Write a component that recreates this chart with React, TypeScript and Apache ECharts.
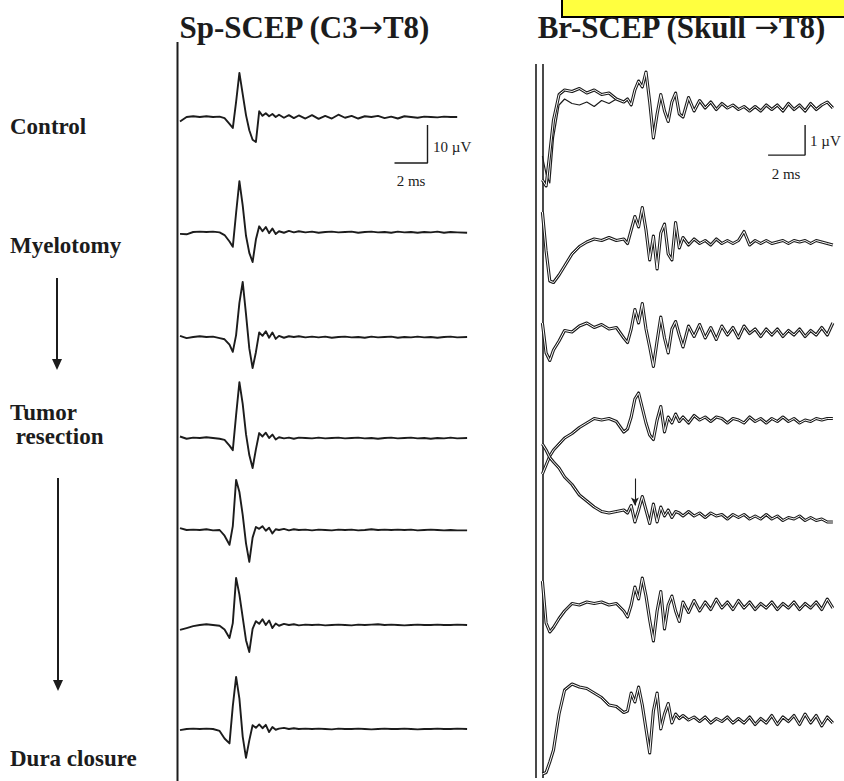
import React, { useEffect, useRef } from "react";
import * as echarts from "echarts";

// ---------- Left panel: Sp-SCEP (C3->T8), time in ms, amplitude in µV ----------
const leftTime = [0, 0.4, 0.8, 1.2, 1.6, 2.0, 2.4, 2.7,
  3.0, 3.2, 3.4, 3.6, 3.8, 4.0, 4.2, 4.4, 4.6, 4.8, 5.0, 5.2, 5.4, 5.6, 5.8, 6.0,
  6.3, 6.6, 6.9, 7.2,
  7.6, 8.0, 8.4, 8.8, 9.2, 9.6, 10.0, 10.4, 10.8, 11.2, 11.6, 12.0, 12.4, 12.8, 13.2, 13.6, 14.0, 14.4, 14.8, 15.2, 15.6, 16.0, 16.4, 16.8,
  17.4];

const spControl = [-1.2, 0.0, 0.2, 0.0, 0.2, 0.0, 0.1, -0.3,
  -1.8, -2.9, 4.0, 11.6, 6.0, 0.5, -3.5, -6.0, -6.6, 1.5, 0.3, 1.0, 0.2, 0.8, 0.0, 0.6,
  -0.2, 0.5, -0.3, 0.4,
  -0.4, 0.5, -0.5, 0.3, -0.4, 0.6, -0.2, 0.3, -0.4, 0.2, 0.0, 0.3, -0.3, 0.1, -0.4, 0.2, 0.0, -0.2, 0.1, 0.0, -0.1, 0.1, 0.0, 0.0,
  null];
const spMyelotomy = [-0.5, -0.6, 0.0, 0.1, 0.0, 0.1, -0.1, -0.8,
  -2.5, -3.9, 5.0, 13.4, 7.0, -1.0, -5.5, -7.9, -2.0, 1.5, 0.2, 1.3, -0.3, 0.9, -0.5, 0.2,
  -0.2, 0.3, -0.1, 0.2,
  -0.1, 0.1, -0.2, 0.0, 0.1, -0.1, 0.0, 0.1, -0.2, 0.0, 0.1, -0.1, 0.0, -0.2, 0.1, -0.1, 0.0, -0.2, 0.0, -0.1, 0.1, -0.2, 0.0, -0.1,
  -0.2];
const spStep3 = [0.3, -0.3, 0.0, 0.2, 0.0, 0.1, -0.3, -0.6,
  -2.0, -3.9, 0.5, 9.0, 14.5, 6.0, -3.0, -8.2, -4.0, 1.2, 0.3, 1.5, -0.2, 1.2, -0.5, 0.3,
  -0.2, 0.2, 0.0, 0.2,
  -0.1, 0.1, -0.1, 0.1, -0.2, 0.0, 0.1, -0.1, 0.0, -0.2, 0.1, -0.1, 0.0, 0.1, -0.2, 0.0, -0.1, 0.1, -0.1, 0.0, -0.2, 0.0, 0.1, -0.1,
  0.0];
const spTumor = [0.4, -0.2, 0.1, 0.0, 0.2, 0.0, -0.2, -0.5,
  -2.0, -3.2, 6.0, 14.7, 9.0, 1.0, -4.5, -7.9, -3.0, 1.3, 0.4, 1.4, 0.0, 0.9, -0.4, 0.2,
  -0.1, 0.1, -0.2, 0.1,
  0.0, -0.1, 0.1, -0.1, 0.0, 0.1, -0.1, 0.0, 0.1, -0.1, 0.0, -0.2, 0.0, 0.1, -0.1, 0.0, 0.1, -0.1, 0.0, -0.2, 0.0, -0.1, 0.1, -0.1,
  0.0];
const spStep5 = [0.5, 0.0, 0.1, 0.0, 0.2, -0.1, 0.0, -1.5,
  -3.9, 1.0, 13.2, 10.0, 4.0, -3.5, -8.4, -2.0, 0.8, 0.3, 1.0, -0.2, 0.6, -0.9, 0.2, 0.0,
  0.3, -0.1, 0.2, 0.0,
  0.1, -0.1, 0.1, 0.0, -0.1, 0.1, 0.0, 0.1, -0.1, 0.0, 0.2, 0.0, 0.1, 0.0, 0.1, 0.0, 0.1, -0.1, 0.0, 0.1, 0.0, -0.1, 0.0, -0.1,
  -0.1];
const spStep6 = [-1.3, -0.8, -0.3, 0.0, 0.2, 0.0, -0.2, -1.2,
  -3.4, 0.5, 12.4, 8.0, 2.0, -4.0, -7.1, -1.0, 1.0, 0.3, 1.5, 0.0, 1.2, -0.8, 0.4, -0.2,
  0.3, 0.0, 0.2, -0.1,
  0.1, 0.0, 0.1, -0.1, 0.0, 0.1, 0.0, -0.1, 0.1, 0.0, 0.1, 0.2, 0.0, 0.1, 0.0, -0.1, 0.0, 0.1, 0.0, 0.0, 0.1, 0.0, 0.0, 0.1,
  0.0];
const spDura = [-0.3, 0.0, 0.1, 0.0, 0.1, 0.0, -0.5, -2.5,
  -3.8, 6.0, 13.7, 8.0, -2.0, -7.6, -3.0, 1.0, 0.3, 1.2, 0.2, 1.1, -0.8, 0.5, -0.2, 0.1,
  0.3, 0.0, 0.2, 0.0,
  0.1, 0.0, 0.1, 0.0, -0.1, 0.1, 0.0, 0.0, 0.1, 0.0, -0.1, 0.0, 0.1, 0.0, 0.0, 0.1, 0.0, -0.1, 0.0, 0.0, 0.1, 0.0, 0.0, 0.1,
  0.0];

// ---------- Right panel: Br-SCEP (Skull->T8) ----------
const rightTime = [0.4, 0.6, 0.8, 1.0, 1.3, 1.6, 2.0, 2.4, 2.8, 3.2, 3.6, 4.0, 4.4, 4.8,
  5.0, 5.2, 5.4, 5.6, 5.8, 6.0, 6.2, 6.4, 6.6, 6.8, 7.0, 7.2, 7.4, 7.6, 7.8, 8.0,
  8.3, 8.6, 8.9, 9.2, 9.5, 9.8, 10.1, 10.4, 10.7, 11.0, 11.3, 11.6, 11.9, 12.2, 12.5, 12.8, 13.1, 13.4, 13.7, 14.0, 14.3, 14.6, 14.9, 15.2, 15.5, 15.8, 16.1];

const brControl = [-2.4, -2.6, -1.5, -0.4, 0.45, 0.6, 0.55, 0.65, 0.5, 0.6, 0.45, 0.5, 0.3, 0.2,
  0.3, 0.1, 0.6, 0.9, 0.7, 1.2, 0.2, -1.0, -0.2, 0.45, -0.1, -0.45, 0.2, 0.5, -0.2, -0.3,
  0.35, -0.1, 0.25, 0.0, 0.2, -0.05, 0.15, 0.0, 0.1, -0.05, 0.05, -0.1, 0.05, -0.1, 0.1, -0.05, 0.1, -0.1, 0.15, -0.05, 0.1, -0.1, 0.15, -0.05, 0.1, 0.2, 0.0];
const brControlRun2 = [-1.6, -2.2, -2.5, -1.0, 0.1, 0.3, 0.15, 0.1, 0.2, 0.05, 0.25, 0.15, 0.3, 0.2, 0.3];
const brMyelotomy = [1.0, -0.3, -1.3, -1.35, -1.1, -0.8, -0.4, -0.15, 0.0, 0.1, 0.05, 0.15, 0.05, 0.1,
  -0.05, 0.4, 0.85, 0.5, 1.15, 0.4, -0.6, 0.2, -0.9, 0.3, 0.6, -0.4, -0.6, 0.65, -0.2, 0.15,
  -0.1, 0.1, -0.05, 0.05, -0.1, 0.1, -0.05, 0.05, -0.05, 0.05, 0.35, -0.1, 0.05, -0.05, 0.05, -0.05, 0.0, 0.05, -0.05, 0.05, 0.0, 0.05, -0.05, 0.05, 0.0, -0.05, -0.1];
const brStep3 = [0.3, -0.7, -0.95, -0.6, -0.3, 0.05, 0.0, 0.2, 0.3, 0.15, 0.25, 0.1, 0.15, -0.2,
  -0.35, 0.1, 0.75, 0.3, 0.95, 0.1, -0.5, -1.15, -0.3, 0.5, -0.2, -0.7, 0.1, 0.35, -0.1, -0.5,
  0.2, -0.15, 0.25, -0.2, 0.15, -0.25, 0.2, -0.1, 0.15, -0.2, 0.2, -0.05, 0.1, -0.15, 0.1, -0.1, 0.1, -0.15, 0.05, -0.1, 0.1, -0.15, 0.05, -0.1, 0.15, -0.1, 0.3];
const brTumor = [-1.8, -1.5, -1.2, -1.0, -0.8, -0.6, -0.45, -0.25, -0.1, 0.05, 0.0, 0.05, -0.05, -0.4,
  -0.3, 0.1, 0.7, 0.9, 0.4, -0.1, -0.5, -0.65, 0.0, 0.45, -0.4, 0.1, -0.1, 0.2, -0.05, 0.1,
  -0.1, 0.15, 0.0, 0.1, -0.05, 0.1, 0.05, -0.1, 0.05, 0.0, -0.1, 0.1, -0.05, 0.05, -0.1, 0.05, -0.05, 0.1, -0.05, 0.05, -0.1, 0.0, -0.05, 0.05, 0.0, 0.05, 0.05];
const brStep5 = [2.3, 2.1, 1.85, 1.7, 1.5, 1.2, 0.95, 0.6, 0.4, 0.2, 0.05, 0.0, 0.05, 0.1,
  0.0, 0.25, -0.3, 0.1, 0.55, 0.1, -0.35, 0.3, -0.3, 0.2, -0.1, 0.1, -0.15, 0.05, 0.0, -0.1,
  0.05, -0.1, 0.0, -0.15, 0.0, -0.1, -0.05, -0.2, -0.05, -0.15, -0.05, -0.2, -0.1, -0.2, -0.05, -0.2, -0.1, -0.25, -0.15, -0.2, -0.1, -0.25, -0.15, -0.25, -0.2, -0.3, -0.3];
const brStep6 = [0.8, -0.6, -0.9, -0.75, -0.45, -0.2, 0.05, 0.0, 0.1, 0.05, 0.1, 0.0, 0.05, -0.2,
  -0.4, 0.0, 0.6, 0.2, 0.9, 0.3, -0.5, -1.2, -0.2, 0.45, -0.8, 0.0, 0.3, -0.2, -0.55, 0.1,
  -0.25, 0.15, -0.2, 0.1, -0.15, 0.2, -0.1, 0.1, -0.15, 0.15, -0.1, 0.1, -0.15, 0.05, -0.1, 0.1, -0.15, 0.05, -0.1, 0.1, -0.15, 0.05, -0.1, 0.1, -0.15, 0.2, -0.1];
const brDura = [-1.8, -1.75, -1.4, -1.0, 0.2, 1.0, 1.2, 1.1, 1.05, 0.9, 0.75, 0.5, 0.45, 0.25,
  0.3, 0.9, 0.6, 1.1, 0.5, -0.3, -1.1, 0.3, 0.9, -0.3, 0.2, 0.55, -0.1, 0.2, 0.05, 0.15,
  0.0, 0.1, -0.05, 0.1, -0.1, 0.05, -0.05, 0.1, -0.1, 0.05, -0.1, 0.1, -0.15, 0.05, -0.1, 0.15, -0.15, 0.1, -0.05, 0.15, -0.15, 0.2, -0.1, 0.15, -0.2, 0.1, -0.1];

// scale bars (ms, µV) and the marked arrow (ms, µV)
const leftScaleBar = [[13, -12.1], [15, -12.1], [15, -2.1]];
const rightScaleBar = [[12.6, -1.57], [14.6, -1.57], [14.6, -0.57]];
const arrowMark = [[5.4, 1.15], [5.4, 0.25]];

const titleParts = [["Sp-SCEP (C3", "T8)"], ["Br-SCEP (Skull ", "T8)"]];
const stageLabels = ["Control", "Myelotomy", "Tumor", " resection", "Dura closure"];

// layout (pixels)
const LEFT_BASE = [117, 232, 337, 438, 530, 625, 729];
const RIGHT_BASE = [108, 242, 332, 420, 513, 605, 720];
const INK = "#1c1c1c";
const SERIF = '"Liberation Serif", "Times New Roman", serif';

export default function App() {
  const ref = useRef<HTMLDivElement>(null);

  useEffect(() => {
    if (!ref.current) return;
    const chart = echarts.init(ref.current, null, { renderer: "svg" });
    const grid: any[] = [];
    const xAxis: any[] = [];
    const yAxis: any[] = [];
    const series: any[] = [];

    const addGrid = (left: number, top: number, width: number, height: number, xmax: number, ymin: number, ymax: number) => {
      const i = grid.length;
      grid.push({ left, top, width, height, containLabel: false, outerBoundsMode: "none", show: false });
      xAxis.push({ type: "value", gridIndex: i, min: 0, max: xmax, show: false });
      yAxis.push({ type: "value", gridIndex: i, min: ymin, max: ymax, show: false });
      return i;
    };

    const leftTraces = [spControl, spMyelotomy, spStep3, spTumor, spStep5, spStep6, spDura];
    leftTraces.forEach((vals, k) => {
      // 16.5 px per ms, 3.8 px per µV
      const gi = addGrid(180, LEFT_BASE[k] - 19, 18 * 16.5, 38, 18, -5, 5);
      series.push({
        type: "line", xAxisIndex: gi, yAxisIndex: gi, silent: true, clip: false,
        showSymbol: false, symbol: "none",
        data: leftTime.map((t, j) => [t, vals[j]]),
        lineStyle: { color: INK, width: 1.9, join: "round" },
      });
      if (k === 0) {
        series.push({
          type: "line", xAxisIndex: gi, yAxisIndex: gi, silent: true, clip: false,
          showSymbol: false, symbol: "none", data: leftScaleBar,
          lineStyle: { color: INK, width: 1.4 },
        });
      }
    });

    const rightTraces = [brControl, brMyelotomy, brStep3, brTumor, brStep5, brStep6, brDura];
    rightTraces.forEach((vals, k) => {
      // 18.5 px per ms, 30 px per µV
      const gi = addGrid(535, RIGHT_BASE[k] - 60, 17 * 18.5, 120, 17, -2, 2);
      const data = rightTime.map((t, j) => [t, vals[j]]);
      if (k === 0) {
        series.push({
          type: "line", xAxisIndex: gi, yAxisIndex: gi, silent: true, clip: false,
          showSymbol: false, symbol: "none",
          data: rightTime.slice(0, brControlRun2.length).map((t, j) => [t, brControlRun2[j]]),
          lineStyle: { color: INK, width: 1.2, join: "round" },
        });
      }
      series.push({
        type: "line", xAxisIndex: gi, yAxisIndex: gi, silent: true, clip: false,
        showSymbol: false, symbol: "none", data,
        lineStyle: { color: INK, width: 3.1, join: "round" },
        markLine: k === 4 ? {
          silent: true, symbol: ["none", "arrow"], symbolSize: [6, 8],
          label: { show: false },
          lineStyle: { color: INK, width: 1.1, type: "solid" },
          data: [[{ coord: arrowMark[0] }, { coord: arrowMark[1] }]],
        } : undefined,
      });
      series.push({
        type: "line", xAxisIndex: gi, yAxisIndex: gi, silent: true, clip: false,
        showSymbol: false, symbol: "none", data,
        lineStyle: { color: "#ffffff", width: 1.0, join: "round" },
      });
      if (k === 0) {
        series.push({
          type: "line", xAxisIndex: gi, yAxisIndex: gi, silent: true, clip: false,
          showSymbol: false, symbol: "none", data: rightScaleBar,
          lineStyle: { color: INK, width: 1.4 },
        });
      }
    });

    const txt = (text: string, x: number, y: number, font: string, align = "left") => ({
      type: "text", x, y, silent: true,
      style: { text, font, fill: INK, textAlign: align, textVerticalAlign: "middle" },
    });
    const titleFont = `bold 31px ${SERIF}`;
    const title = (parts: string[], x: number, y: number) => ({
      type: "text", x, y, silent: true,
      style: {
        text: `{t|${parts[0]}}{a|\u2192}{t|${parts[1]}}`,
        textAlign: "center", textVerticalAlign: "middle",
        rich: {
          t: { font: titleFont, fill: INK },
          a: { font: `29px "DejaVu Sans", sans-serif`, fill: INK },
        },
      },
    });
    const vline = (x: number, y1: number, y2: number, w: number) => ({
      type: "line", silent: true, shape: { x1: x, y1, x2: x, y2 }, style: { stroke: INK, lineWidth: w },
    });

    const labelFont = `bold 23px ${SERIF}`;
    const smallFont = `15px ${SERIF}`;

    const graphic = [
      { type: "rect", silent: true, shape: { x: 562, y: -3, width: 290, height: 20 }, style: { fill: "#ffff3f", stroke: "#000", lineWidth: 2 } },
      title(titleParts[0], 304, 27),
      title(titleParts[1], 681, 27),
      txt(stageLabels[0], 10, 126, labelFont),
      txt(stageLabels[1], 10, 245, labelFont),
      txt(stageLabels[2], 10, 412, labelFont),
      txt(stageLabels[3], 10, 436, labelFont),
      txt(stageLabels[4], 10, 758, labelFont),
      vline(57, 278, 362, 2),
      { type: "polygon", silent: true, shape: { points: [[52, 359], [62, 359], [57, 370]] }, style: { fill: INK } },
      vline(58, 478, 682, 2),
      { type: "polygon", silent: true, shape: { points: [[53, 680], [63, 680], [58, 691]] }, style: { fill: INK } },
      vline(177.5, 42, 781, 2),
      vline(536, 64, 778, 1.6),
      vline(543, 64, 778, 1.6),
      txt("10 \u00b5V", 433, 147, smallFont),
      txt("2 ms", 411, 181, smallFont, "center"),
      txt("1 \u00b5V", 810, 141, smallFont),
      txt("2 ms", 786, 174, smallFont, "center"),
    ];

    chart.setOption({
      animation: false,
      backgroundColor: "#ffffff",
      grid, xAxis, yAxis, series,
      graphic: { elements: graphic },
    });
    return () => chart.dispose();
  }, []);

  return (
    <div
      ref={ref}
      style={{ position: "absolute", left: 0, top: 0, width: 844, height: 781, background: "#fff" }}
    />
  );
}
